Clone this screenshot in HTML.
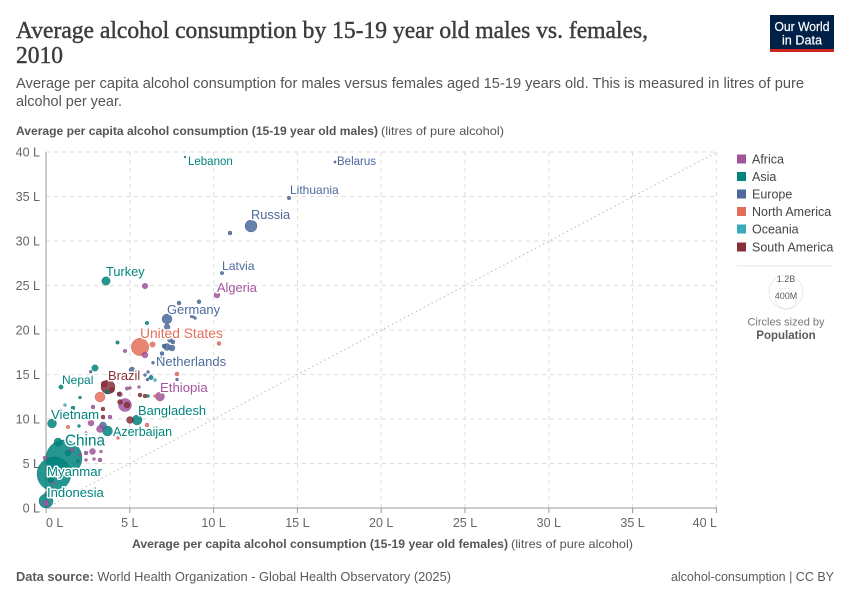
<!DOCTYPE html>
<html><head><meta charset="utf-8"><style>
html,body{margin:0;padding:0;background:#fff;}
svg{display:block;}
.g{stroke:#ddd;stroke-width:1;stroke-dasharray:4,4;}
.tk{font-size:12.5px;fill:#666;}
.A{fill:#a2559c;stroke:#7d3f78;}
.S{fill:#00847e;stroke:#005f5a;}
.E{fill:#4c6a9c;stroke:#384f75;}
.N{fill:#e56e5a;stroke:#b55444;}
.O{fill:#38aaba;stroke:#2a808c;}
.M{fill:#883039;stroke:#62222a;}
circle{fill-opacity:.85;stroke-width:.5;stroke-opacity:.7;}
.lb{paint-order:stroke;stroke:#fff;stroke-width:3px;stroke-linejoin:round;}
</style></head><body>
<svg width="850" height="600" xmlns="http://www.w3.org/2000/svg" font-family="'Liberation Sans', sans-serif">
<rect width="850" height="600" fill="#fff"/>
<!-- Title -->
<text x="16" y="38" font-family="'Liberation Serif', serif" font-size="24" fill="#3d3d3d" stroke="#3d3d3d" stroke-width="0.45" textLength="632" lengthAdjust="spacingAndGlyphs">Average alcohol consumption by 15-19 year old males vs. females,</text>
<text x="16" y="63" font-family="'Liberation Serif', serif" font-size="24" fill="#3d3d3d" stroke="#3d3d3d" stroke-width="0.45" textLength="47" lengthAdjust="spacingAndGlyphs">2010</text>
<text x="16" y="88" font-size="14.5" fill="#555" textLength="788" lengthAdjust="spacingAndGlyphs">Average per capita alcohol consumption for males versus females aged 15-19 years old. This is measured in litres of pure</text>
<text x="16" y="106" font-size="14.5" fill="#555" textLength="106" lengthAdjust="spacingAndGlyphs">alcohol per year.</text>
<!-- Logo -->
<rect x="770" y="15" width="64" height="37" fill="#002147"/>
<rect x="770" y="49" width="64" height="3" fill="#ce261e"/>
<text x="802" y="31" font-size="12.5" fill="#fff" text-anchor="middle" textLength="55" lengthAdjust="spacingAndGlyphs" stroke="#fff" stroke-width="0.2">Our World</text>
<text x="802" y="44.5" font-size="12.5" fill="#fff" text-anchor="middle" textLength="40" lengthAdjust="spacingAndGlyphs" stroke="#fff" stroke-width="0.2">in Data</text>
<!-- Y axis title -->
<text x="16" y="135" font-size="12" font-weight="bold" fill="#555" textLength="362" lengthAdjust="spacingAndGlyphs">Average per capita alcohol consumption (15-19 year old males)</text>
<text x="381" y="135" font-size="12" fill="#555" textLength="123" lengthAdjust="spacingAndGlyphs">(litres of pure alcohol)</text>
<!-- Grid -->
<g class="g">
<line x1="46" y1="152" x2="717" y2="152"/>
<line x1="46" y1="196.5" x2="717" y2="196.5"/>
<line x1="46" y1="241" x2="717" y2="241"/>
<line x1="46" y1="285.5" x2="717" y2="285.5"/>
<line x1="46" y1="330" x2="717" y2="330"/>
<line x1="46" y1="374.5" x2="717" y2="374.5"/>
<line x1="46" y1="419" x2="717" y2="419"/>
<line x1="46" y1="463.5" x2="717" y2="463.5"/>
<line x1="129.8" y1="152" x2="129.8" y2="508"/>
<line x1="213.6" y1="152" x2="213.6" y2="508"/>
<line x1="297.4" y1="152" x2="297.4" y2="508"/>
<line x1="381.2" y1="152" x2="381.2" y2="508"/>
<line x1="465" y1="152" x2="465" y2="508"/>
<line x1="548.8" y1="152" x2="548.8" y2="508"/>
<line x1="632.6" y1="152" x2="632.6" y2="508"/>
<line x1="716.4" y1="152" x2="716.4" y2="508"/>
</g>
<line x1="46" y1="152" x2="46" y2="508" stroke="#999" stroke-width="1"/>
<line x1="46" y1="508" x2="717" y2="508" stroke="#999" stroke-width="1"/>
<g stroke="#999" stroke-width="1">
<line x1="46" y1="508" x2="46" y2="513"/><line x1="129.8" y1="508" x2="129.8" y2="513"/><line x1="213.6" y1="508" x2="213.6" y2="513"/><line x1="297.4" y1="508" x2="297.4" y2="513"/><line x1="381.2" y1="508" x2="381.2" y2="513"/><line x1="465" y1="508" x2="465" y2="513"/><line x1="548.8" y1="508" x2="548.8" y2="513"/><line x1="632.6" y1="508" x2="632.6" y2="513"/><line x1="716.4" y1="508" x2="716.4" y2="513"/>
</g>
<line x1="46" y1="508" x2="717" y2="152" stroke="#bbb" stroke-width="1" stroke-dasharray="1.5,3"/>
<!-- Y ticks -->
<g class="tk" text-anchor="end">
<text x="40" y="156.5">40 L</text>
<text x="40" y="201">35 L</text>
<text x="40" y="245.5">30 L</text>
<text x="40" y="290">25 L</text>
<text x="40" y="334.5">20 L</text>
<text x="40" y="379">15 L</text>
<text x="40" y="423.5">10 L</text>
<text x="40" y="468">5 L</text>
<text x="40" y="512.5">0 L</text>
</g>
<!-- X ticks -->
<g class="tk" text-anchor="middle">
<text x="46" y="527" text-anchor="start">0 L</text>
<text x="129.8" y="527">5 L</text>
<text x="213.6" y="527">10 L</text>
<text x="297.4" y="527">15 L</text>
<text x="381.2" y="527">20 L</text>
<text x="465" y="527">25 L</text>
<text x="548.8" y="527">30 L</text>
<text x="632.6" y="527">35 L</text>
<text x="717" y="527" text-anchor="end">40 L</text>
</g>
<!-- X axis title -->
<text x="132" y="548" font-size="12" font-weight="bold" fill="#555" textLength="376" lengthAdjust="spacingAndGlyphs">Average per capita alcohol consumption (15-19 year old females)</text>
<text x="511" y="548" font-size="12" fill="#555" textLength="122" lengthAdjust="spacingAndGlyphs">(litres of pure alcohol)</text>

<!-- Points: large first -->
<g>
<circle class="S" cx="64" cy="458" r="18"/>
<circle class="S" cx="54" cy="474" r="17"/>
<circle class="N" cx="140" cy="347" r="8.7"/>
<circle class="S" cx="46" cy="501" r="7"/>
<circle class="M" cx="108" cy="387" r="7"/>
<circle class="A" cx="125" cy="405" r="6.5"/>
<circle class="E" cx="251" cy="226" r="6"/>
<circle class="N" cx="100" cy="397" r="5"/>
<circle class="S" cx="137" cy="420" r="5"/>
<circle class="S" cx="107.5" cy="431" r="5"/>
<circle class="E" cx="167" cy="319" r="5"/>
<circle class="S" cx="52" cy="423.5" r="4.5"/>
<circle class="A" cx="160" cy="396.5" r="4.5"/>
<circle class="S" cx="106" cy="281" r="4.2"/>
<circle class="S" cx="58" cy="442" r="4"/>
<circle class="E" cx="103" cy="425.5" r="3.5"/>
<circle class="M" cx="130" cy="420" r="3.5"/>
<circle class="A" cx="100" cy="429" r="3.5"/>
<circle class="E" cx="167" cy="347" r="3.5"/>
<circle class="S" cx="95" cy="368" r="3.2"/>
<circle class="E" cx="132" cy="370" r="3"/>
<circle class="E" cx="172" cy="348" r="3"/>
<circle class="E" cx="167" cy="327" r="3"/>
<circle class="A" cx="145" cy="355" r="3"/>
<circle class="A" cx="217" cy="295" r="3"/>
<circle class="A" cx="92.5" cy="451.5" r="3"/>
<circle class="A" cx="91" cy="423" r="3"/>
<circle class="S" cx="68" cy="453" r="3"/>
<circle class="S" cx="51" cy="480" r="3"/>
<circle class="M" cx="127" cy="405" r="3"/>
<circle class="M" cx="104" cy="384" r="3"/>
<circle class="A" cx="46" cy="503" r="3"/>
<circle class="A" cx="145" cy="286" r="2.8"/>
<circle class="N" cx="152.5" cy="344.5" r="2.7"/>
<circle class="M" cx="112" cy="390" r="2.5"/>
<circle class="M" cx="120" cy="402" r="2.5"/>
<circle class="A" cx="120" cy="394.3" r="2.5"/>
<circle class="E" cx="163" cy="337" r="2.5"/>
<circle class="E" cx="170" cy="340" r="2.5"/>
<circle class="S" cx="47" cy="494" r="2.5"/>
<circle class="S" cx="151" cy="377.5" r="2.2"/>
<circle class="S" cx="61" cy="387" r="2.2"/>
<circle class="E" cx="230" cy="233" r="2"/>
<circle class="E" cx="179" cy="303" r="2"/>
<circle class="E" cx="199" cy="301.7" r="2"/>
<circle class="E" cx="192" cy="316" r="2"/>
<circle class="E" cx="173" cy="342" r="2"/>
<circle class="E" cx="164" cy="346" r="2"/>
<circle class="E" cx="162" cy="353.5" r="2"/>
<circle class="N" cx="219" cy="343.5" r="2"/>
<circle class="N" cx="177" cy="374" r="2"/>
<circle class="N" cx="147" cy="425" r="2"/>
<circle class="A" cx="93" cy="407" r="2"/>
<circle class="S" cx="73" cy="408" r="2"/>
<circle class="M" cx="103" cy="409" r="2"/>
<circle class="M" cx="119" cy="394" r="2"/>
<circle class="M" cx="145" cy="396" r="2"/>
<circle class="M" cx="140" cy="395" r="2"/>
<circle class="M" cx="103" cy="417" r="2"/>
<circle class="A" cx="110" cy="417" r="2"/>
<circle class="A" cx="86" cy="453" r="2"/>
<circle class="A" cx="45" cy="458" r="2"/>
<circle class="A" cx="100" cy="460" r="2"/>
<circle class="A" cx="72" cy="450" r="2"/>
<circle class="S" cx="107" cy="392" r="2"/>
<circle class="E" cx="222" cy="273" r="1.8"/>
<circle class="E" cx="289" cy="198" r="1.8"/>
<circle class="S" cx="147" cy="323" r="1.8"/>
<circle class="S" cx="117.5" cy="342.5" r="1.8"/>
<circle class="A" cx="125" cy="351" r="1.8"/>
<circle class="A" cx="127" cy="388.5" r="1.8"/>
<circle class="A" cx="90" cy="418" r="1.8"/>
<circle class="N" cx="68" cy="427" r="1.8"/>
<circle class="E" cx="195" cy="318" r="1.5"/>
<circle class="E" cx="187" cy="332" r="1.5"/>
<circle class="E" cx="161.7" cy="358" r="1.5"/>
<circle class="E" cx="153" cy="362.7" r="1.5"/>
<circle class="E" cx="148" cy="372" r="1.5"/>
<circle class="E" cx="145" cy="375" r="1.5"/>
<circle class="E" cx="147.5" cy="379.5" r="1.5"/>
<circle class="E" cx="177" cy="379.5" r="1.5"/>
<circle class="E" cx="90.7" cy="371.7" r="1.5"/>
<circle class="A" cx="139" cy="387" r="1.5"/>
<circle class="A" cx="130" cy="388" r="1.5"/>
<circle class="S" cx="80" cy="397.5" r="1.5"/>
<circle class="S" cx="148" cy="396" r="1.5"/>
<circle class="N" cx="155" cy="396" r="1.5"/>
<circle class="S" cx="79" cy="426" r="1.5"/>
<circle class="A" cx="75" cy="418" r="1.5"/>
<circle class="N" cx="116" cy="433" r="1.5"/>
<circle class="N" cx="121" cy="434" r="1.5"/>
<circle class="N" cx="118" cy="438" r="1.5"/>
<circle class="A" cx="86" cy="433" r="1.5"/>
<circle class="A" cx="104" cy="443" r="1.5"/>
<circle class="A" cx="101" cy="451.5" r="1.5"/>
<circle class="A" cx="86" cy="460" r="1.5"/>
<circle class="A" cx="94" cy="459" r="1.5"/>
<circle class="A" cx="80" cy="455" r="1.5"/>
<circle class="S" cx="78" cy="461" r="1.5"/>
<circle class="A" cx="53" cy="483" r="1.5"/>
<circle class="O" cx="85" cy="415" r="1.5"/>
<circle class="O" cx="65" cy="405" r="1.5"/>
<circle class="O" cx="155" cy="380" r="1.5"/>
<circle class="S" cx="212" cy="338" r="1"/>
<circle class="E" cx="335" cy="162" r="1.2"/>
<circle class="S" cx="185" cy="157" r="1"/>
</g>

<!-- Labels -->
<g class="lb">
<text x="188" y="165" font-size="11.5" fill="#00847e">Lebanon</text>
<text x="337" y="165" font-size="11.5" fill="#4c6a9c">Belarus</text>
<text x="290" y="194" font-size="12" fill="#4c6a9c">Lithuania</text>
<text x="251" y="219" font-size="12.8" fill="#4c6a9c">Russia</text>
<text x="222" y="270" font-size="12.2" fill="#4c6a9c">Latvia</text>
<text x="106" y="276" font-size="12.8" fill="#00847e">Turkey</text>
<text x="217" y="292" font-size="12.8" fill="#a2559c">Algeria</text>
<text x="167" y="314" font-size="12.9" fill="#4c6a9c">Germany</text>
<text x="140" y="338" font-size="13.8" fill="#e56e5a">United States</text>
<text x="156" y="366" font-size="13" fill="#4c6a9c">Netherlands</text>
<text x="108" y="380" font-size="12.9" fill="#883039">Brazil</text>
<text x="62" y="384" font-size="12" fill="#00847e">Nepal</text>
<text x="160" y="392" font-size="13.2" fill="#a2559c">Ethiopia</text>
<text x="138" y="415" font-size="12.9" fill="#00847e">Bangladesh</text>
<text x="51" y="419" font-size="13.2" fill="#00847e">Vietnam</text>
<text x="113" y="436" font-size="12.5" fill="#00847e">Azerbaijan</text>
<text x="65" y="445.5" font-size="15.3" fill="#00847e">China</text>
<text x="47" y="476" font-size="13.2" fill="#00847e">Myanmar</text>
<text x="47" y="497" font-size="13.1" fill="#00847e">Indonesia</text>
</g>

<!-- Legend -->
<g font-size="12.5" fill="#444">
<rect x="737" y="154.5" width="9" height="9" fill="#a2559c"/><text x="752" y="163.5">Africa</text>
<rect x="737" y="172" width="9" height="9" fill="#00847e"/><text x="752" y="181">Asia</text>
<rect x="737" y="189.5" width="9" height="9" fill="#4c6a9c"/><text x="752" y="198.5">Europe</text>
<rect x="737" y="207" width="9" height="9" fill="#e56e5a"/><text x="752" y="216">North America</text>
<rect x="737" y="224.5" width="9" height="9" fill="#38aaba"/><text x="752" y="233.5">Oceania</text>
<rect x="737" y="242.5" width="9" height="9" fill="#883039"/><text x="752" y="251.5">South America</text>
</g>
<line x1="737" y1="266" x2="833" y2="266" stroke="#e4e4e4" stroke-width="1"/>
<circle cx="786" cy="292" r="17" fill="none" stroke="#c4c4c4" stroke-width="1" style="fill-opacity:1"/>
<circle cx="786" cy="298.5" r="10.5" fill="none" stroke="#c4c4c4" stroke-width="1" style="fill-opacity:1"/>
<text x="786" y="282" font-size="9" fill="#5b5b5b" text-anchor="middle" class="lb" style="stroke-width:2px">1.2B</text>
<text x="786" y="299" font-size="9" fill="#5b5b5b" text-anchor="middle" class="lb" style="stroke-width:2px">400M</text>
<text x="786" y="325.5" font-size="11" fill="#777" text-anchor="middle">Circles sized by</text>
<text x="786" y="339" font-size="11.5" font-weight="bold" fill="#5b5b5b" text-anchor="middle">Population</text>

<!-- Footer -->
<text x="16" y="581" font-size="12.5" fill="#5b5b5b" textLength="435" lengthAdjust="spacingAndGlyphs"><tspan font-weight="bold">Data source:</tspan> World Health Organization - Global Health Observatory (2025)</text>
<text x="834" y="581" font-size="12.5" fill="#5b5b5b" text-anchor="end">alcohol-consumption | CC BY</text>
</svg>
</body></html>
